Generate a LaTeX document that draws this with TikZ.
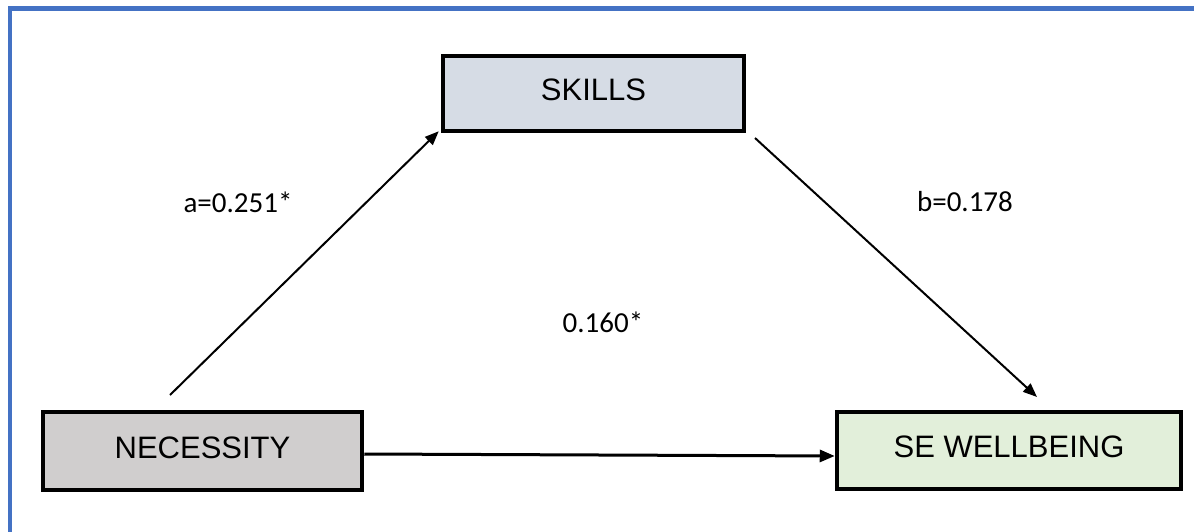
\documentclass[tikz,border=0pt]{standalone}
\usepackage{fontspec}
\setmainfont{Liberation Sans}
\newfontfamily\labelfont{Carlito}
\usetikzlibrary{arrows.meta,calc}
\definecolor{frameblue}{HTML}{4472C4}
\definecolor{skillfill}{HTML}{D6DCE5}
\definecolor{necfill}{HTML}{D0CECE}
\definecolor{sefill}{HTML}{E2EFDA}
\newcommand{\boxtext}[1]{\raisebox{7pt}{#1}}
\tikzset{
  varbox/.style={draw=black, line width=4.5pt, rectangle, inner sep=0pt,
    font=\fontsize{31}{34}\selectfont},
  coef/.style={font=\labelfont\fontsize{29}{32}\selectfont, inner sep=0pt},
  path arrow/.style={line width=2pt, -{Triangle[length=14pt,width=11pt]}},
  direct arrow/.style={line width=3pt, -{Triangle[length=15pt,width=12pt]}},
}
\begin{document}
\begin{tikzpicture}[x=1pt,y=-1pt]
\useasboundingbox (0,0) rectangle (1194,532);
% frame along top and left edge
\draw[frameblue, line width=4.5pt] (1194,8.5) -- (10,8.5) -- (10,532);

% variables
\node[varbox, fill=skillfill, minimum width=301pt, minimum height=75pt] (sk) at (593.5,93.5) {\boxtext{SKILLS}};
\node[varbox, fill=necfill, minimum width=319pt, minimum height=78pt] (nec) at (202.5,451) {\boxtext{NECESSITY}};
\node[varbox, fill=sefill, minimum width=344pt, minimum height=77pt] (se) at (1009,450.5) {\boxtext{SE WELLBEING}};

% free ends of the indirect paths
\coordinate (aStart) at (170,395);
\coordinate (bStart) at (755,138);
\coordinate (bEnd) at (1037,397);

% paths
\draw[path arrow] (aStart) -- ($(sk.south west)+(-2,-2)$);
\draw[path arrow] (bStart) -- (bEnd);
\draw[direct arrow] ($(nec.east)+(0,3)$) -- ($(se.west)+(0,5.5)$);

% coefficients
\node[coef] (ca) at (238,202) {a=0.251*};
\node[coef] (cc) at (603,322) {0.160*};
\node[coef] (cb) at (965,202) {b=0.178};
\end{tikzpicture}
\end{document}
